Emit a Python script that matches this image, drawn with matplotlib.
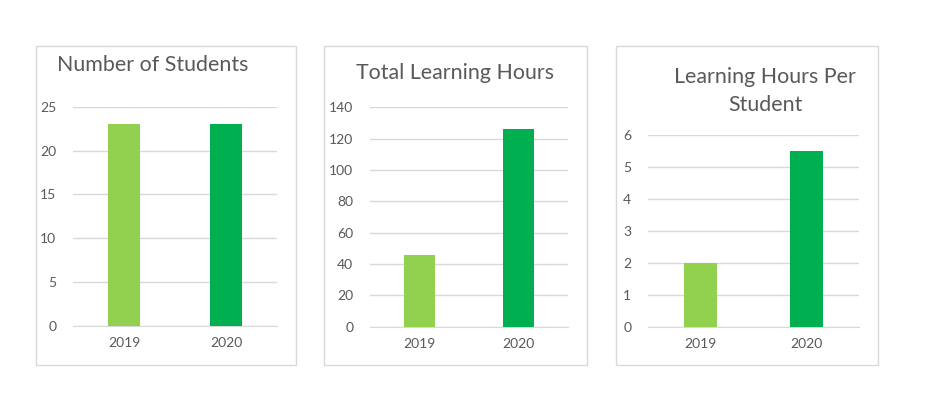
import matplotlib
matplotlib.use("Agg")
import matplotlib.pyplot as plt
from matplotlib.patches import Rectangle

years = ["2019", "2020"]
students = [23, 23]
total_hours = [46, 126]
hours_per_student = [2, 5.5]
titles = ["Number of Students", "Total Learning Hours", "Learning Hours Per\nStudent"]
yticks = [[0, 5, 10, 15, 20, 25], [0, 20, 40, 60, 80, 100, 120, 140], [0, 1, 2, 3, 4, 5, 6]]
colors = ["#92D050", "#00B050"]

W, H = 929, 398
fig = plt.figure(figsize=(W / 100, H / 100), dpi=100)
plt.rcParams['font.family'] = ['Lato', 'DejaVu Sans']

def fx(x):
    return x / W

def fy(y):
    return 1 - y / H

text_c = "#595959"
grid_c = "#D9D9D9"

# panel borders (pixel coords)
borders = [(36, 46, 296, 365), (324, 46, 587, 365), (616, 46, 878, 365)]
for (x0, y0, x1, y1) in borders:
    fig.patches.append(Rectangle((fx(x0), fy(y1)), fx(x1) - fx(x0), fy(y0) - fy(y1),
                                 transform=fig.transFigure, fill=False,
                                 edgecolor=grid_c, linewidth=1.0))

axes_px = [(73, 106.7, 277, 326), (370, 107.3, 568, 326.7), (648, 135.3, 859, 326.7)]
data = [students, total_hours, hours_per_student]
title_pos = [(152.5, 65), (455, 73), (765, 91)]

for i in range(3):
    x0, y0, x1, y1 = axes_px[i]
    ax = fig.add_axes([fx(x0), fy(y1), fx(x1) - fx(x0), fy(y0) - fy(y1)])
    ax.bar(range(len(years)), data[i], width=0.31, color=colors, zorder=3)
    ax.set_xlim(-0.5, 1.5)
    ax.set_ylim(yticks[i][0], yticks[i][-1])
    ax.set_yticks(yticks[i])
    ax.set_xticks(range(len(years)))
    ax.set_xticklabels(years)
    ax.yaxis.grid(True, color=grid_c, linewidth=1.0, zorder=0)
    ax.set_axisbelow(True)
    for s in ["top", "right", "left"]:
        ax.spines[s].set_visible(False)
    ax.spines["bottom"].set_color(grid_c)
    ax.tick_params(axis="both", length=0, labelsize=10, colors=text_c)
    ax.tick_params(axis="y", pad=12)
    ax.tick_params(axis="x", pad=8)
    ax.set_facecolor("none")
    tx, ty = title_pos[i]
    fig.text(fx(tx), fy(ty), titles[i], ha="center", va="center",
             fontsize=15.4, color=text_c, linespacing=1.45)

fig.savefig("out.png", dpi=100, facecolor="white")
